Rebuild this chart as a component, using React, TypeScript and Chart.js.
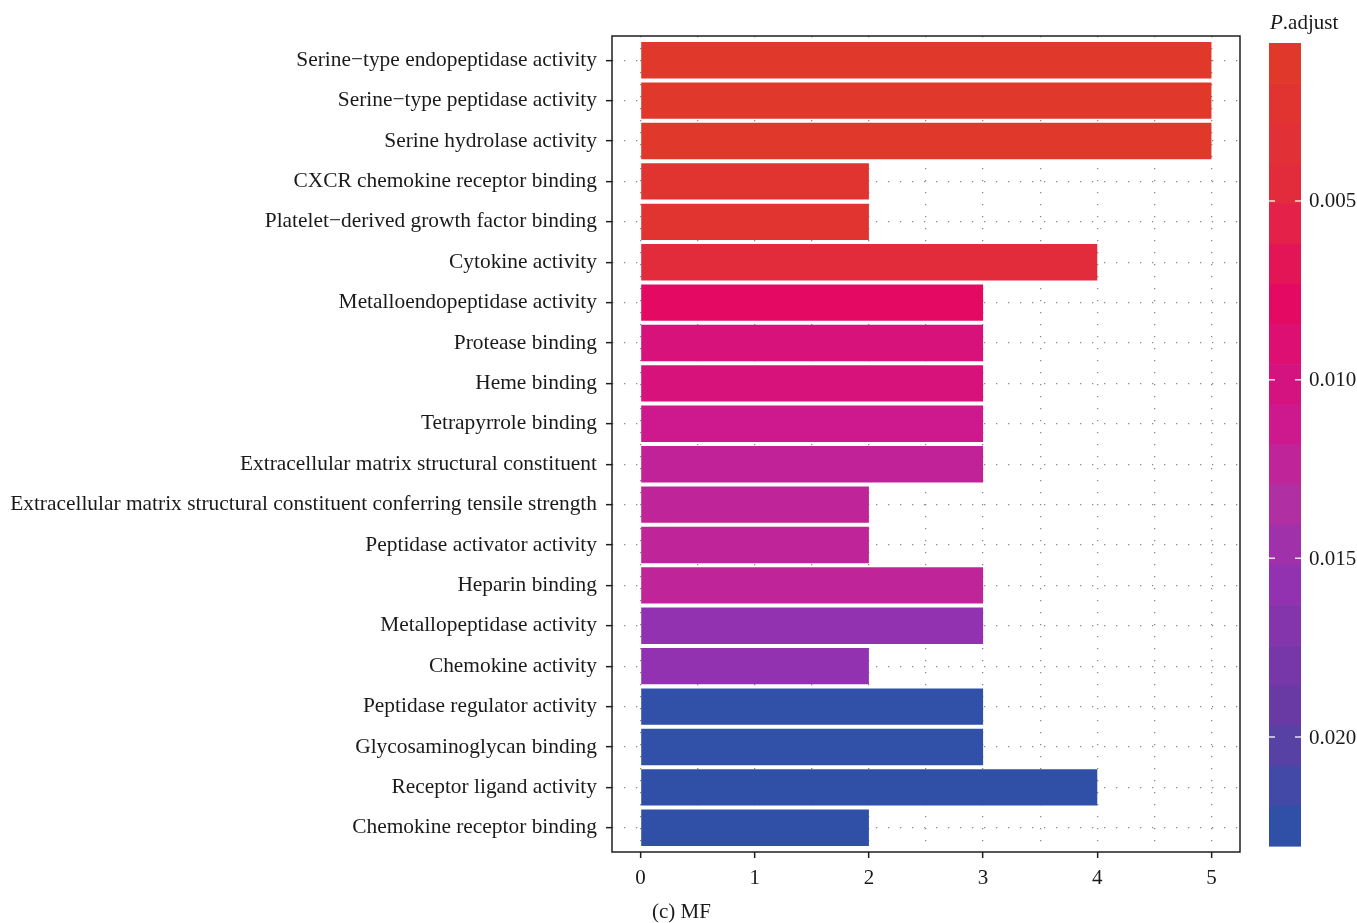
import React, { useEffect, useRef } from "react";
import { Chart, registerables } from "chart.js";

Chart.register(...registerables);

const categories = [
  "Serine\u2212type endopeptidase activity",
  "Serine\u2212type peptidase activity",
  "Serine hydrolase activity",
  "CXCR chemokine receptor binding",
  "Platelet\u2212derived growth factor binding",
  "Cytokine activity",
  "Metalloendopeptidase activity",
  "Protease binding",
  "Heme binding",
  "Tetrapyrrole binding",
  "Extracellular matrix structural constituent",
  "Extracellular matrix structural constituent conferring tensile strength",
  "Peptidase activator activity",
  "Heparin binding",
  "Metallopeptidase activity",
  "Chemokine activity",
  "Peptidase regulator activity",
  "Glycosaminoglycan binding",
  "Receptor ligand activity",
  "Chemokine receptor binding",
];

const counts = [5, 5, 5, 2, 2, 4, 3, 3, 3, 3, 3, 2, 2, 3, 3, 2, 3, 3, 4, 2];

const pAdjust = [
  0.00058, 0.00058, 0.0006, 0.00176, 0.00176, 0.00413, 0.00768, 0.0096,
  0.0096, 0.01123, 0.0122, 0.0124, 0.0124, 0.0124, 0.01595, 0.01595,
  0.023, 0.023, 0.02302, 0.02305,
];

const xTickValues = [0, 0.5, 1, 1.5, 2, 2.5, 3, 3.5, 4, 4.5, 5];
const colorbarTicks = [0.005, 0.01, 0.015, 0.02];
const colorbarTickLabels = ["0.005", "0.010", "0.015", "0.020"];

const gradientPositions = [0, 0.158, 0.316, 0.474, 0.579, 0.684, 0.842, 1];
const gradientColors = [
  "#E0382A",
  "#E22C3C",
  "#E40A64",
  "#CE188E",
  "#B030A4",
  "#9232B0",
  "#6A3AA4",
  "#3050A8",
];

const FONT = "'Liberation Serif', 'DejaVu Serif', serif";
const FS = 21;
const FS_Y = 21.4;

function hexToRgb(h: string) {
  const n = parseInt(h.slice(1), 16);
  return [(n >> 16) & 255, (n >> 8) & 255, n & 255];
}

const pMin = Math.min(...pAdjust);
const pMax = Math.max(...pAdjust);

function colorAt(t: number) {
  t = Math.max(0, Math.min(1, t));
  for (let i = 0; i < gradientPositions.length - 1; i++) {
    const a = gradientPositions[i];
    const b = gradientPositions[i + 1];
    if (t <= b) {
      const f = (t - a) / (b - a);
      const ca = hexToRgb(gradientColors[i]);
      const cb = hexToRgb(gradientColors[i + 1]);
      const c = ca.map((v, k) => Math.round(v + (cb[k] - v) * f));
      return `rgb(${c[0]},${c[1]},${c[2]})`;
    }
  }
  return gradientColors[gradientColors.length - 1];
}

function colorForP(p: number) {
  return colorAt((p - pMin) / (pMax - pMin));
}

const colorbarPlugin = {
  id: "colorbarAndFrame",
  afterDraw(chart: any) {
    const ctx = chart.ctx;
    const area = chart.chartArea;
    ctx.save();
    // frame
    ctx.strokeStyle = "#1f1f1f";
    ctx.lineWidth = 1.5;
    ctx.setLineDash([]);
    ctx.strokeRect(area.left, area.top, area.right - area.left, area.bottom - area.top);

    // colorbar
    const cbLeft = 1269;
    const cbWidth = 32;
    const cbTop = 43;
    const cbBottom = 846;
    const nbin = 20;
    const binH = (cbBottom - cbTop) / nbin;
    for (let k = 0; k < nbin; k++) {
      const t = k / (nbin - 1);
      ctx.fillStyle = colorAt(t);
      ctx.fillRect(cbLeft, cbTop + k * binH, cbWidth, binH + 0.6);
    }
    ctx.strokeStyle = "rgba(255,255,255,0.85)";
    ctx.lineWidth = 1.5;
    ctx.font = `${FS}px ${FONT}`;
    ctx.textAlign = "left";
    ctx.textBaseline = "middle";
    colorbarTicks.forEach((v, i) => {
      const y = cbTop + ((v - pMin) / (pMax - pMin)) * (cbBottom - cbTop);
      ctx.beginPath();
      ctx.moveTo(cbLeft, y);
      ctx.lineTo(cbLeft + 6, y);
      ctx.moveTo(cbLeft + cbWidth - 6, y);
      ctx.lineTo(cbLeft + cbWidth, y);
      ctx.stroke();
      ctx.fillStyle = "#1a1a1a";
      ctx.fillText(colorbarTickLabels[i], 1309, y + 1);
    });

    // colorbar title
    ctx.fillStyle = "#1a1a1a";
    ctx.font = `italic ${FS}px ${FONT}`;
    ctx.fillText("P", 1270, 23);
    const w = ctx.measureText("P").width;
    ctx.font = `${FS}px ${FONT}`;
    ctx.fillText(".adjust", 1270 + w, 23);

    // caption
    ctx.font = `${FS}px ${FONT}`;
    ctx.fillText("(c) MF", 652, 912);
    ctx.restore();
  },
};

export default function App() {
  const ref = useRef<HTMLCanvasElement | null>(null);
  useEffect(() => {
    if (!ref.current) return;
    const chart = new Chart(ref.current, {
      type: "bar",
      data: {
        datasets: [
          {
            data: counts.map((c, i) => ({ x: c, y: i })),
            backgroundColor: pAdjust.map((p) => colorForP(p)),
            borderWidth: 0,
            categoryPercentage: 1,
            barPercentage: 0.9,
          },
        ],
      },
      options: {
        indexAxis: "y",
        animation: false,
        responsive: false,
        events: [],
        layout: { padding: { top: 36, right: 117, bottom: 0, left: 0 } },
        plugins: {
          legend: { display: false },
          tooltip: { enabled: false },
          title: { display: false },
        },
        scales: {
          y: {
            type: "linear",
            reverse: true,
            min: -0.6,
            max: 19.6,
            offset: false,
            afterBuildTicks: (scale: any) => {
              scale.ticks = categories.map((_, i) => ({ value: i }));
            },
            afterFit: (scale: any) => {
              scale.width = 612;
            },
            ticks: {
              autoSkip: false,
              padding: 9,
              color: "#1a1a1a",
              font: { family: FONT, size: FS_Y },
              callback: (v: any) => categories[v as number] ?? "",
            },
            grid: {
              offset: false,
              color: "#8a8a8a",
              lineWidth: 1.3,
              drawTicks: true,
              tickLength: 6,
              tickColor: "#1f1f1f",
              tickWidth: 1.5,
              tickBorderDash: [],
            },
            border: { display: false, dash: [1.3, 10.7] },
          },
          x: {
            type: "linear",
            min: -0.25,
            max: 5.25,
            afterBuildTicks: (scale: any) => {
              scale.ticks = xTickValues.map((v) => ({ value: v }));
            },
            afterFit: (scale: any) => {
              scale.height = 71;
            },
            ticks: {
              autoSkip: false,
              maxRotation: 0,
              padding: 8,
              color: "#1a1a1a",
              font: { family: FONT, size: FS },
              callback: (v: any) => (Number.isInteger(v) ? String(v) : ""),
            },
            grid: {
              color: "#8a8a8a",
              lineWidth: 1.3,
              drawTicks: true,
              tickLength: 6,
              tickColor: (c: any) =>
                c.tick && Number.isInteger(c.tick.value) ? "#1f1f1f" : "rgba(0,0,0,0)",
              tickWidth: 1.5,
              tickBorderDash: [],
            },
            border: { display: false, dash: [1.3, 10.7] },
          },
        },
      },
      plugins: [colorbarPlugin],
    } as any);
    return () => chart.destroy();
  }, []);
  return (
    <div style={{ position: "fixed", left: 0, top: 0, width: 1357, height: 923, background: "#fff" }}>
      <canvas ref={ref} width={1357} height={923} style={{ display: "block" }} />
    </div>
  );
}
